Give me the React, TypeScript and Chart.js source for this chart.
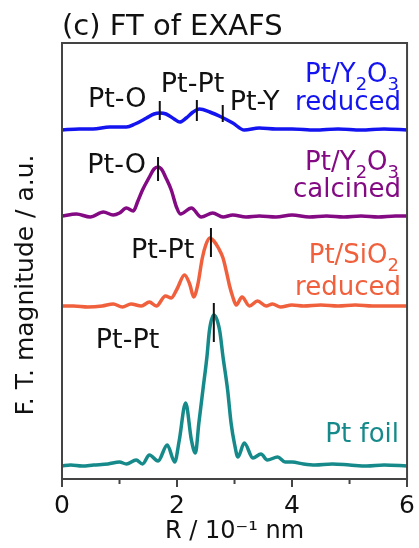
import React, { useEffect, useRef } from 'react';
import { Chart, registerables } from 'chart.js';

Chart.register(...registerables);

const FONT = '"DejaVu Sans", "Liberation Sans", Arial, sans-serif';

// ---- data: R (10^-1 nm) and FT magnitude (a.u., relative to each curve's baseline) ----
const R_BLUE = [0, 0.3, 0.54, 0.83, 1.12, 1.27, 1.47, 1.6, 1.7, 1.81, 1.95, 2.05, 2.16, 2.28, 2.39, 2.57, 2.77, 2.97, 3.17, 3.43, 3.72, 4.0, 4.4, 4.8, 5.2, 5.6, 6.0];
const M_BLUE = [1, 2, 2, 4, 4, 7, 13, 17, 18, 17, 12, 9, 13, 19, 22, 19, 14, 8, 1, 3, 2, 2, 1, 2, 1, 2, 1];

const R_PURPLE = [0, 0.25, 0.49, 0.72, 0.89, 1.0, 1.12, 1.24, 1.32, 1.4, 1.52, 1.6, 1.67, 1.74, 1.8, 1.9, 1.99, 2.06, 2.25, 2.42, 2.62, 2.8, 2.97, 3.2, 3.43, 3.72, 4.0, 4.3, 4.6, 4.9, 5.2, 5.5, 5.8, 6.0];
const M_PURPLE = [2, 4, 1, 6, 3, 5, 10, 7, 17, 28, 41, 49, 51, 48, 41, 28, 11, 4, 10, 1, 5, 1, 3, 1, 2, 1, 3, 1, 2, 1, 2, 1, 2, 2];

const R_ORANGE = [0, 0.2, 0.45, 0.7, 0.89, 1.05, 1.2, 1.38, 1.52, 1.64, 1.8, 1.9, 2.0, 2.13, 2.22, 2.29, 2.36, 2.44, 2.5, 2.57, 2.64, 2.72, 2.8, 2.86, 2.91, 2.97, 3.03, 3.13, 3.26, 3.4, 3.55, 3.66, 3.8, 4.0, 4.2, 4.5, 4.8, 5.1, 5.4, 5.7, 6.0];
const M_ORANGE = [2, 2, 1, 2, 4, 1, 4, 2, 6, 2, 12, 10, 19, 33, 24, 11, 23, 50, 63, 70, 67, 60, 50, 36, 23, 11, 3, 11, 2, 7, 2, 4, 1, 3, 2, 3, 2, 3, 2, 2, 2];

const R_TEAL = [0, 0.15, 0.35, 0.55, 0.8, 1.0, 1.12, 1.29, 1.4, 1.52, 1.67, 1.83, 1.96, 2.04, 2.15, 2.25, 2.32, 2.38, 2.45, 2.52, 2.565, 2.64, 2.74, 2.8, 2.88, 2.94, 3.0, 3.06, 3.17, 3.32, 3.46, 3.57, 3.75, 3.88, 4.0, 4.2, 4.4, 4.7, 5.0, 5.3, 5.6, 6.0];
const M_TEAL = [1, 2, 1, 2, 3, 5, 3, 7, 3, 12, 6, 22, 5, 27, 64, 27, 14, 44, 77, 110, 137, 152, 137, 110, 77, 44, 23, 10, 24, 9, 13, 7, 10, 5, 5, 3, 2, 3, 2, 1, 2, 1];

// vertical stacking offsets of the curves (a.u.)
const OFFSETS = [348, 261, 171, 12];
const SERIES_COLORS = ['#1414f0', '#830a83', '#f0603c', '#168a8a'];

// peak markers (R position, low and high ends in a.u.)
const MARK_R = [1.7, 2.345, 2.795, 1.67, 2.59, 2.64];
const MARK_LO = [359, 358, 357, 298, 222, 137];
const MARK_HI = [378, 379, 374, 322, 251, 176];

// peak labels
const PEAK_LABELS = ['Pt-O', 'Pt-Pt', 'Pt-Y', 'Pt-O', 'Pt-Pt', 'Pt-Pt'];
const PEAK_LABEL_R = [0.96, 2.27, 3.35, 0.95, 1.75, 1.14];
const PEAK_LABEL_V = [372, 387, 369, 306, 221, 131];

// sample names ("_n" = subscript)
const SAMPLE_LINE1 = ['Pt/Y_2O_3', 'Pt/Y_2O_3', 'Pt/SiO_2', 'Pt foil'];
const SAMPLE_LINE2 = ['reduced', 'calcined', 'reduced', ''];
const SAMPLE_R = 5.86;
const SAMPLE_V1 = [397, 309, 216, 37];
const SAMPLE_V2 = [369, 282, 184, 0];

const X_MIN = 0;
const X_MAX = 6;
const Y_MIN = 0;
const Y_MAX = 436;
const MINOR_TICKS = [1, 3, 5];

const TITLE = '(c) FT of EXAFS';
const X_TITLE = 'R / 10⁻¹ nm';
const Y_TITLE = 'F. T. magnitude / a.u.';

function drawRich(ctx: CanvasRenderingContext2D, text: string, xRight: number, yBase: number, size: number, color: string) {
  const parts: { t: string; sub: boolean }[] = [];
  const re = /_(\d)/g;
  let last = 0;
  let m: RegExpExecArray | null;
  while ((m = re.exec(text))) {
    if (m.index > last) parts.push({ t: text.slice(last, m.index), sub: false });
    parts.push({ t: m[1], sub: true });
    last = m.index + m[0].length;
  }
  if (last < text.length) parts.push({ t: text.slice(last), sub: false });
  const subSize = Math.round(size * 0.7);
  let total = 0;
  const widths = parts.map((p) => {
    ctx.font = `${p.sub ? subSize : size}px ${FONT}`;
    const w = ctx.measureText(p.t).width;
    total += w;
    return w;
  });
  let x = xRight - total;
  ctx.fillStyle = color;
  ctx.textAlign = 'left';
  ctx.textBaseline = 'alphabetic';
  parts.forEach((p, i) => {
    ctx.font = `${p.sub ? subSize : size}px ${FONT}`;
    ctx.fillText(p.t, x, p.sub ? yBase + 8 : yBase);
    x += widths[i];
  });
}

const overlay = {
  id: 'overlay',
  afterDraw(chart: any) {
    const { ctx, chartArea: a, scales } = chart;
    const xs = scales.x;
    const ys = scales.y;
    ctx.save();
    // frame
    ctx.strokeStyle = '#444';
    ctx.lineWidth = 2;
    ctx.strokeRect(a.left, a.top, a.right - a.left, a.bottom - a.top);
    // minor ticks
    MINOR_TICKS.forEach((v) => {
      const px = xs.getPixelForValue(v);
      ctx.beginPath();
      ctx.moveTo(px, a.bottom);
      ctx.lineTo(px, a.bottom + 5);
      ctx.stroke();
    });
    // title
    ctx.fillStyle = '#111';
    ctx.font = `29px ${FONT}`;
    ctx.textAlign = 'left';
    ctx.textBaseline = 'alphabetic';
    ctx.fillText(TITLE, a.left, 35);
    // y title
    ctx.save();
    ctx.translate(33, 285);
    ctx.rotate(-Math.PI / 2);
    ctx.font = `25px ${FONT}`;
    ctx.textAlign = 'center';
    ctx.fillText(Y_TITLE, 0, 0);
    ctx.restore();
    // peak labels
    ctx.font = `27px ${FONT}`;
    ctx.textAlign = 'center';
    ctx.fillStyle = '#111';
    PEAK_LABELS.forEach((t, i) => {
      ctx.fillText(t, xs.getPixelForValue(PEAK_LABEL_R[i]), ys.getPixelForValue(PEAK_LABEL_V[i]));
    });
    // sample names
    SAMPLE_LINE1.forEach((t, i) => {
      const xr = xs.getPixelForValue(SAMPLE_R);
      drawRich(ctx, t, xr, ys.getPixelForValue(SAMPLE_V1[i]), 26, SERIES_COLORS[i]);
      if (SAMPLE_LINE2[i]) drawRich(ctx, SAMPLE_LINE2[i], xr + 2, ys.getPixelForValue(SAMPLE_V2[i]), 26, SERIES_COLORS[i]);
    });
    ctx.restore();
  },
};

export default function App() {
  const ref = useRef<HTMLCanvasElement>(null);
  useEffect(() => {
    const canvas = ref.current!;
    const curves = [
      [R_BLUE, M_BLUE],
      [R_PURPLE, M_PURPLE],
      [R_ORANGE, M_ORANGE],
      [R_TEAL, M_TEAL],
    ].map(([rs, ms], i) => ({
      data: rs.map((r, j) => ({ x: r, y: OFFSETS[i] + ms[j] })),
      borderColor: SERIES_COLORS[i],
      borderWidth: 3.5,
      pointRadius: 0,
      cubicInterpolationMode: 'monotone' as const,
      fill: false,
    }));
    const markers = MARK_R.map((r, i) => ({
      data: [
        { x: r, y: MARK_LO[i] },
        { x: r, y: MARK_HI[i] },
      ],
      borderColor: '#111',
      borderWidth: 2,
      pointRadius: 0,
      fill: false,
    }));
    const chart = new Chart(canvas, {
      type: 'line',
      data: { datasets: [...markers, ...curves] as any },
      options: {
        responsive: false,
        animation: false,
        devicePixelRatio: 1,
        layout: { padding: { top: 43, right: 11, left: 0, bottom: 0 } },
        plugins: { legend: { display: false }, tooltip: { enabled: false }, title: { display: false } },
        scales: {
          x: {
            type: 'linear',
            min: X_MIN,
            max: X_MAX,
            afterFit: (s: any) => {
              s.height = 69;
            },
            border: { display: false },
            grid: {
              drawOnChartArea: false,
              drawTicks: true,
              tickLength: 8,
              lineWidth: 2,
              color: (c: any) => (c.tick && c.tick.value % 2 === 0 ? '#444' : 'rgba(0,0,0,0)'),
            },
            ticks: {
              stepSize: 1,
              autoSkip: false,
              maxRotation: 0,
              padding: 4,
              color: '#111',
              font: { family: FONT, size: 25 },
              callback: (v: any) => (Number(v) % 2 === 0 ? String(v) : ''),
            },
            title: {
              display: true,
              text: X_TITLE,
              color: '#111',
              font: { family: FONT, size: 24 },
              padding: { top: 0, bottom: 2 },
            },
          },
          y: {
            type: 'linear',
            min: Y_MIN,
            max: Y_MAX,
            afterFit: (s: any) => {
              s.width = 62;
            },
            border: { display: false },
            grid: { display: false },
            ticks: { display: false },
          },
        },
      },
      plugins: [overlay],
    } as any);
    return () => chart.destroy();
  }, []);
  return (
    <div style={{ position: 'fixed', left: 0, top: 0, width: 419, height: 548, background: '#fff' }}>
      <canvas ref={ref} width={419} height={548} style={{ display: 'block' }} />
    </div>
  );
}
